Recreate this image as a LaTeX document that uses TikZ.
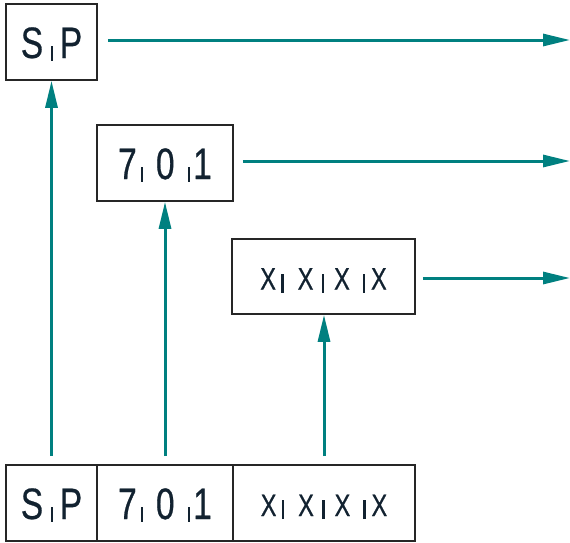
\documentclass[tikz,border=0pt]{standalone}
\usepackage{fontspec}
\setmainfont{Liberation Sans}[FakeStretch=0.76,FakeBold=0.6]
\usetikzlibrary{arrows.meta}
\definecolor{tealc}{RGB}{0,128,128}
\definecolor{inkc}{RGB}{18,34,48}
\newcommand{\dbar}{\rule[-2.5pt]{2.2pt}{15pt}}
\newcommand{\xbar}{\rule[-3pt]{2.2pt}{19pt}}
\newcommand{\sptext}{S\hspace{7.5pt}\dbar\hspace{7pt}P}
\newcommand{\digtext}{7\hspace{4.5pt}\dbar\hspace{12.5pt}0\hspace{13.5pt}\dbar\hspace{3pt}1}
\newcommand{\xtext}{X\hspace{5.5pt}\xbar\hspace{14pt}X\hspace{8.5pt}\xbar\hspace{10pt}X\hspace{13pt}\xbar\hspace{6pt}X}
\tikzset{
  cell/.style={draw=black!85, line width=1.6pt, inner sep=0pt, text=inkc, align=center},
  bigtxt/.style={cell, font=\fontsize{44pt}{50pt}\selectfont, text height=32pt, text depth=0pt},
  smalltxt/.style={cell, font=\fontsize{31pt}{36pt}\selectfont, text height=26pt, text depth=0pt},
  arr/.style={draw=tealc, line width=3pt, -{Triangle[length=27pt,width=12pt]}}
}
\begin{document}
\begin{tikzpicture}[x=1pt,y=-1pt]
\useasboundingbox (0,0) rectangle (570,542);
% top boxes
\node[bigtxt, minimum width=91pt, minimum height=76pt] (tSP) at (51.5,42) {\sptext};
\node[bigtxt, minimum width=136pt, minimum height=76pt] (tD) at (165,163) {\digtext};
\node[smalltxt, minimum width=183pt, minimum height=75pt] (tX) at (323.5,276.5) {\xtext};
% bottom row
\node[bigtxt, minimum width=91pt, minimum height=76pt] (bSP) at (51.5,503) {\sptext};
\node[bigtxt, minimum width=136pt, minimum height=76pt] (bD) at (165,503) {\digtext};
\node[smalltxt, minimum width=182pt, minimum height=76pt] (bX) at (324,503) {\xtext};
% right ends
\coordinate (e1) at (570,40);
\coordinate (e2) at (570,161);
\coordinate (e3) at (570,278);
% horizontal arrows
\draw[arr] ([xshift=10pt]tSP.east |- e1) -- (e1);
\draw[arr] ([xshift=9pt]tD.east |- e2) -- (e2);
\draw[arr] ([xshift=7pt]tX.east |- e3) -- (e3);
% vertical arrows
\draw[arr] ([yshift=8pt]bSP.north) -- (tSP.south);
\draw[arr] ([yshift=8pt]bD.north) -- (tD.south);
\draw[arr] ([yshift=8pt]bX.north) -- (bX.north |- tX.south);
\end{tikzpicture}
\end{document}
